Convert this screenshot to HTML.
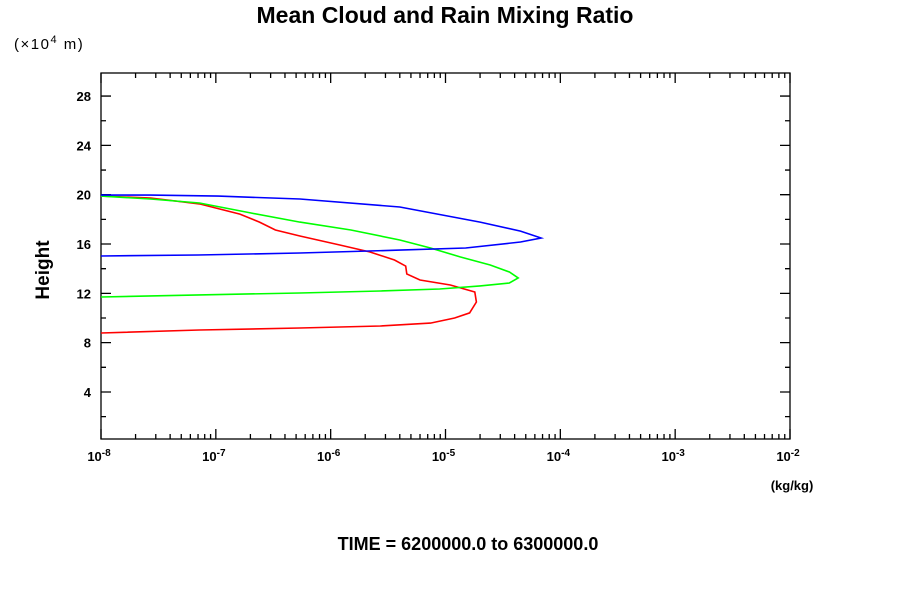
<!DOCTYPE html>
<html><head><meta charset="utf-8"><style>
body{margin:0;background:#fff;width:900px;height:600px;overflow:hidden}
svg{display:block}
text{font-family:"Liberation Sans",sans-serif;fill:#000}
</style></head><body>
<svg id="chart" width="900" height="600">
<text x="445" y="23" text-anchor="middle" font-size="23" font-weight="bold">Mean Cloud and Rain Mixing Ratio</text>
<text x="14" y="49" font-size="15" letter-spacing="1.5">(×10<tspan dy="-6" font-size="11">4</tspan><tspan dy="6">  m)</tspan></text>
<text x="49" y="270" font-size="19" font-weight="bold" text-anchor="middle" transform="rotate(-90 49 270)">Height</text>
<text x="792" y="490" font-size="13" font-weight="bold" text-anchor="middle">(kg/kg)</text>
<text x="468" y="550" font-size="18" font-weight="bold" text-anchor="middle">TIME = 6200000.0 to 6300000.0</text>
<g id="axes"></g>
<g id="series"></g>
</svg>
<script>
const yTicks=[4,8,12,16,20,24,28];
const xDecades=[-8,-7,-6,-5,-4,-3,-2];
const blueX=[1e-8,2.7e-8,1.05e-7,5.4e-7,4e-6,2e-5,4.5e-5,6.8e-5,4.5e-5,1.5e-5,4e-6,5.4e-7,7e-8,1e-8];
const blueH=[19.97,19.97,19.89,19.65,19.0,17.78,17.05,16.49,16.16,15.68,15.51,15.27,15.11,15.03];
const greenX=[1e-8,2.7e-8,7.2e-8,2e-7,5.4e-7,1.5e-6,4e-6,7.4e-6,1.35e-5,2.45e-5,3.6e-5,4.3e-5,3.6e-5,2e-5,8.9e-6,2.7e-6,5.4e-7,7.2e-8,1e-8];
const greenH=[19.89,19.65,19.33,18.52,17.78,17.14,16.33,15.68,14.95,14.3,13.73,13.25,12.84,12.6,12.35,12.19,12.03,11.87,11.7];
const redX=[1e-8,2.7e-8,7.2e-8,1.62e-7,2.4e-7,3.3e-7,5.4e-7,1.2e-6,2.2e-6,3.6e-6,4.5e-6,4.6e-6,6e-6,1.1e-5,1.8e-5,1.86e-5,1.62e-5,1.2e-5,7.4e-6,2.7e-6,5.4e-7,7.2e-8,1e-8];
const redH=[19.89,19.73,19.25,18.43,17.78,17.14,16.65,15.92,15.35,14.7,14.21,13.57,13.08,12.68,12.11,11.3,10.41,10.0,9.59,9.35,9.19,9.03,8.78];
const L=101,R=790,T=73,B=439;
const xs=v=>L+(Math.log10(v)+8)*(R-L)/6;
const ys=h=>441.3-h*12.33;
const NS="http://www.w3.org/2000/svg";
function mk(tag,attrs,parent){const e=document.createElementNS(NS,tag);for(const k in attrs)e.setAttribute(k,attrs[k]);parent.appendChild(e);return e;}
const ax=document.getElementById('axes');
const frame=mk('rect',{x:L,y:T,width:R-L,height:B-T,fill:'none',stroke:'#000','stroke-width':1.3},ax);


let d='';
for(let h=2;h<30;h+=2){const y=ys(h);const len=(h%4===0)?10:5;d+=`M${L} ${y}h${len}M${R} ${y}h${-len}`;}
for(let i=0;i<xDecades.length;i++){const p=xDecades[i];for(let m=1;m<10;m++){if(p===-2&&m>1)break;const x=xs(m*Math.pow(10,p));const len=m===1?10:5;d+=`M${x} ${B}v${-len}M${x} ${T}v${len}`;}}
const tk=mk('path',{d:d,stroke:'#000','stroke-width':1.3,fill:'none'},ax);


yTicks.forEach(h=>{const t=mk('text',{x:91,y:ys(h)+5,'text-anchor':'end','font-size':13,'font-weight':'bold'},ax);t.textContent=h;

});
xDecades.forEach(p=>{const t=mk('text',{x:xs(Math.pow(10,p))-2,y:461,'text-anchor':'middle','font-size':13,'font-weight':'bold'},ax);
t.innerHTML='10<tspan dy="-5" font-size="10">'+p+'</tspan>';

});
const sg=document.getElementById('series');
function line(X,H,c,name){const pts=X.map((v,i)=>xs(v).toFixed(1)+','+ys(H[i]).toFixed(1)).join(' ');
const p=mk('polyline',{points:pts,fill:'none',stroke:c,'stroke-width':1.6},sg);

}
line(redX,redH,'#ff0000','red-series');
line(greenX,greenH,'#00ff00','green-series');
line(blueX,blueH,'#0000ff','blue-series');
</script>
</body></html>
